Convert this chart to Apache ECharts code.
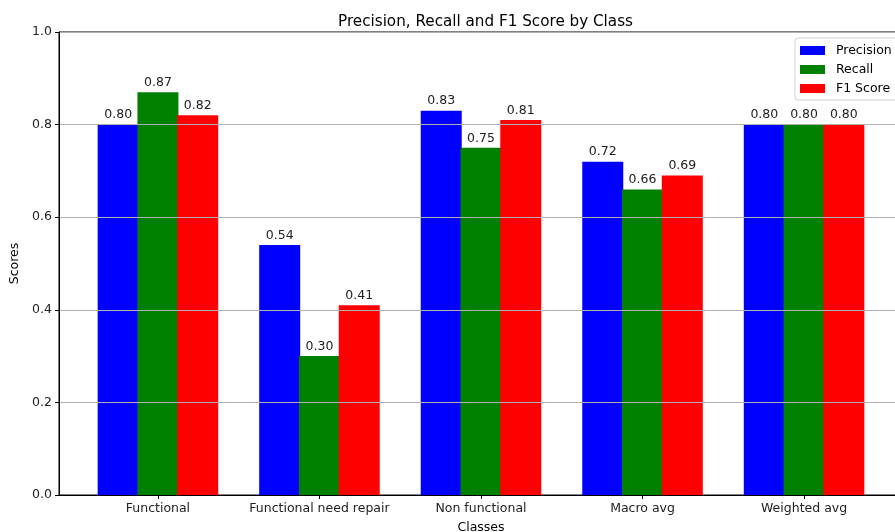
<!DOCTYPE html>
<html>
<head>
<meta charset="utf-8">
<script src="https://cdn.jsdelivr.net/npm/echarts@6/dist/echarts.min.js"></script>
<style>
  html, body { margin: 0; padding: 0; background: #fff; }
  #main { width: 895px; height: 532px; }
</style>
</head>
<body>
<div id="main"></div>
<script>
// 数据
var classes = ['Functional', 'Functional need repair', 'Non functional', 'Macro avg', 'Weighted avg'];
var precision = [0.80, 0.54, 0.83, 0.72, 0.80];
var recall = [0.87, 0.30, 0.75, 0.66, 0.80];
var f1 = [0.82, 0.41, 0.81, 0.69, 0.80];
var yTicks = [0, 0.2, 0.4, 0.6, 0.8, 1.0];

var font = 'DejaVu Sans';
var fs = 12.5;
var myChart = echarts.init(document.getElementById('main'));

function toPoints(arr) {
    return arr.map(function (v, i) { return [i, v]; });
}

function barSeries(name, color, arr) {
    return {
        name: name,
        type: 'bar',
        data: toPoints(arr),
        barWidth: 41,
        barGap: '-3%',
        itemStyle: { color: color, borderWidth: 0 },
        label: {
            show: true,
            position: 'top',
            distance: 3,
            color: '#222',
            fontFamily: font,
            fontSize: fs,
            formatter: function (p) { return p.value[1].toFixed(2); }
        },
        z: 2
    };
}

var option = {
    animation: false,
    title: {
        text: 'Precision, Recall and F1 Score by Class',
        left: 333,
        top: 10,
        textStyle: { fontFamily: font, fontSize: 15.2, fontWeight: 'normal', color: '#000' }
    },
    legend: {
        data: ['Precision', 'Recall', 'F1 Score'],
        orient: 'vertical',
        left: 795,
        top: 38,
        padding: [6, 20, 5, 5],
        itemWidth: 25,
        itemHeight: 9,
        itemGap: 6,
        borderColor: '#d0d0d0',
        borderWidth: 1,
        borderRadius: 3,
        icon: 'rect',
        textStyle: { fontFamily: font, fontSize: fs, color: '#000', padding: [0, 0, 0, 6] }
    },
    grid: {
        left: 59,
        top: 32,
        width: 844,
        bottom: 37,
        outerBoundsMode: 'none',
        containLabel: false,
        show: true,
        borderColor: '#000',
        borderWidth: 1
    },
    xAxis: {
        type: 'value',
        min: -0.6125,
        max: 4.6125,
        z: 5,
        name: 'Classes',
        nameLocation: 'middle',
        nameGap: 26,
        nameTextStyle: { fontFamily: font, fontSize: fs, color: '#000' },
        axisLine: { onZero: false, lineStyle: { color: '#000' } },
        axisTick: { customValues: [0, 1, 2, 3, 4], length: 4, lineStyle: { color: '#000' } },
        axisLabel: {
            customValues: [0, 1, 2, 3, 4],
            formatter: function (v) { return classes[Math.round(v)]; },
            fontFamily: font, fontSize: fs, color: '#222', margin: 7
        },
        splitLine: { show: false }
    },
    yAxis: {
        type: 'value',
        min: 0,
        max: 1,
        interval: 0.2,
        z: 5,
        name: 'Scores',
        nameLocation: 'middle',
        nameGap: 34,
        nameTextStyle: { fontFamily: font, fontSize: fs, color: '#000' },
        axisLine: { show: true, onZero: false, lineStyle: { color: '#000' } },
        axisTick: { show: true, length: 4, lineStyle: { color: '#000' } },
        axisLabel: {
            formatter: function (v) { return v.toFixed(1); },
            fontFamily: font, fontSize: fs, color: '#222', margin: 7
        },
        splitLine: { show: true, lineStyle: { color: '#b0b0b0', width: 1 } }
    },
    series: [
        barSeries('Precision', '#0000ff', precision),
        barSeries('Recall', '#008000', recall),
        barSeries('F1 Score', '#ff0000', f1)
    ]
};

myChart.setOption(option);
</script>
</body>
</html>
